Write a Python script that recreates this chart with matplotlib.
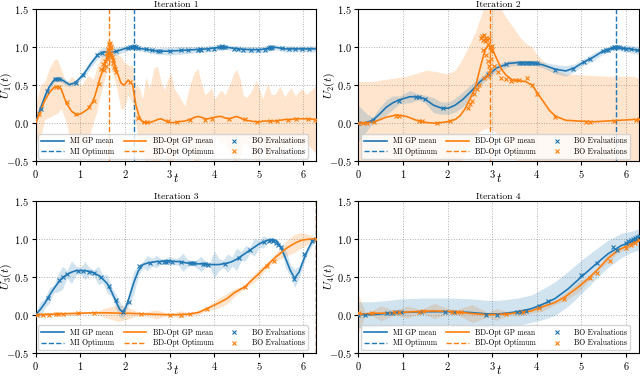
import numpy as np
import matplotlib
matplotlib.use("Agg")
from matplotlib import pyplot as plt
from matplotlib.lines import Line2D

plt.rcParams['font.family'] = 'serif'
plt.rcParams['font.serif'] = ['cmr10']
plt.rcParams['mathtext.fontset'] = 'cm'
plt.rcParams['axes.formatter.use_mathtext'] = True

BLUE = '#1f77b4'
ORANGE = '#ff7f0e'

# ---------------- Iteration 1 ----------------
p1_mi_t = [0, 0.1, 0.2, 0.3, 0.42, 0.52, 0.62, 0.75, 0.87, 0.98, 1.1, 1.25, 1.4, 1.52, 1.67, 1.82,
           1.97, 2.13, 2.27, 2.52, 2.73, 2.96, 3.26, 3.55, 3.85, 4.1, 4.29, 4.54, 4.79, 5.03, 5.23,
           5.38, 5.58, 5.82, 6.28]
p1_mi_mean = [0.02, 0.19, 0.35, 0.48, 0.58, 0.59, 0.56, 0.51, 0.53, 0.59, 0.67, 0.80, 0.91, 0.94,
              0.93, 0.95, 0.98, 1.0, 0.99, 0.97, 0.95, 0.95, 0.96, 0.97, 0.98, 1.0, 1.0, 0.98, 0.97,
              0.97, 0.99, 1.0, 0.98, 0.98, 0.98]
p1_mi_hw = [0.04, 0.04, 0.04, 0.04, 0.03, 0.03, 0.04, 0.03, 0.03, 0.03, 0.04, 0.05, 0.05, 0.06,
            0.05, 0.05, 0.04, 0.03, 0.03, 0.04, 0.04, 0.05, 0.05, 0.04, 0.04, 0.04, 0.03, 0.04,
            0.04, 0.04, 0.04, 0.03, 0.04, 0.04, 0.04]
p1_bd_t = [0, 0.1, 0.2, 0.3, 0.4, 0.48, 0.57, 0.68, 0.8, 0.91,
           1.02, 1.17, 1.29, 1.36, 1.44, 1.52, 1.59, 1.65, 1.73, 1.81,
           1.91, 1.98, 2.07, 2.17, 2.24, 2.32, 2.39, 2.47, 2.55, 2.65,
           2.73, 2.8, 2.88, 2.95, 3.03, 3.1, 3.19, 3.34, 3.45, 3.56,
           3.63, 3.71, 3.79, 3.86, 3.94, 4.01, 4.09, 4.16, 4.24, 4.34,
           4.44, 4.5, 4.59, 4.65, 4.72, 4.82, 4.94, 5.03, 5.09, 5.2,
           5.28, 5.36, 5.47, 5.58, 5.72, 5.82, 5.95, 6.07, 6.28]
p1_bd_mean = [0.01, 0.15, 0.30, 0.40, 0.47, 0.49, 0.45, 0.27, 0.16, 0.11,
              0.13, 0.19, 0.30, 0.43, 0.60, 0.73, 0.86, 0.94, 0.86, 0.69,
              0.53, 0.50, 0.57, 0.51, 0.25, 0.08, 0.02, 0.01, 0.01, 0.03,
              0.05, 0.06, 0.04, 0.02, 0.01, 0.01, 0.02, 0.03, 0.05, 0.08,
              0.09, 0.08, 0.06, 0.06, 0.07, 0.08, 0.09, 0.09, 0.07, 0.06,
              0.08, 0.09, 0.07, 0.05, 0.04, 0.03, 0.02, 0.02, 0.03, 0.03,
              0.03, 0.03, 0.04, 0.05, 0.05, 0.06, 0.06, 0.06, 0.05]
p1_bd_hw = [0.24, 0.35, 0.25, 0.32, 0.36, 0.36, 0.26, 0.25, 0.46, 0.45,
            0.37, 0.44, 0.28, 0.29, 0.25, 0.20, 0.18, 0.15, 0.20, 0.22,
            0.35, 0.30, 0.20, 0.25, 0.25, 0.40, 0.30, 0.60, 0.45, 0.70,
            0.70, 0.50, 0.40, 0.55, 0.65, 0.45, 0.36, 0.20, 0.45, 0.60,
            0.63, 0.45, 0.32, 0.35, 0.40, 0.24, 0.30, 0.35, 0.30, 0.45,
            0.58, 0.62, 0.50, 0.32, 0.30, 0.38, 0.55, 0.40, 0.30, 0.50,
            0.35, 0.35, 0.45, 0.30, 0.42, 0.30, 0.40, 0.32, 0.45]
p1_mi_eval_t = [0.12, 0.25, 0.42, 0.47, 0.52, 0.9, 1.05, 1.38, 1.48, 1.8,
                2.07, 2.12, 2.15, 2.18, 2.2, 2.22, 2.25, 2.3, 2.48, 2.6,
                2.74, 2.78, 3.0, 3.26, 3.4, 3.64, 3.67, 3.7, 3.85, 4.0,
                4.1, 4.15, 4.18, 4.2, 4.24, 4.44, 4.54, 4.64, 4.83, 4.98,
                5.13, 5.23, 5.25, 5.28, 5.3, 5.52, 5.68, 5.82, 5.97, 6.12]
p1_mi_eval_y = [0.19, 0.43, 0.58, 0.59, 0.59, 0.53, 0.63, 0.90, 0.93, 0.95,
                0.99, 1.0, 1.01, 1.0, 1.02, 1.0, 1.01, 0.99, 0.98, 0.97,
                0.95, 0.95, 0.95, 0.96, 0.97, 0.97, 0.98, 0.97, 0.98, 0.98,
                1.0, 1.01, 1.02, 1.0, 1.01, 0.98, 0.98, 0.97, 0.97, 0.97,
                0.97, 0.99, 1.0, 0.99, 1.0, 0.99, 0.98, 0.98, 0.98, 0.98]
p1_bd_eval_t = [0.07, 0.45, 0.52, 0.7, 0.9, 1.2, 1.3, 1.42, 1.47, 1.5,
                1.53, 1.55, 1.57, 1.59, 1.6, 1.61, 1.62, 1.63, 1.64, 1.65,
                1.66, 1.67, 1.68, 1.69, 1.7, 1.72, 1.74, 1.76, 1.78, 1.8,
                2.1, 2.3, 2.43, 2.5, 2.96, 3.16, 3.45, 3.79, 3.95, 4.33,
                4.69, 4.96, 5.24, 5.41, 5.66, 5.84, 6.11, 6.26]
p1_bd_eval_y = [0.12, 0.48, 0.48, 0.28, 0.12, 0.22, 0.29, 0.52, 0.72, 0.78,
                0.70, 0.82, 0.76, 0.88, 0.92, 0.85, 0.98, 0.90, 1.04, 0.95,
                1.06, 0.99, 0.93, 1.0, 0.87, 0.84, 0.80, 0.74, 0.72, 0.68,
                0.55, 0.07, 0.02, 0.02, 0.03, 0.02, 0.04, 0.05, 0.06, 0.06,
                0.06, 0.02, 0.03, 0.03, 0.05, 0.06, 0.06, 0.05]
p1_mi_opt = 2.19
p1_bd_opt = 1.64

# ---------------- Iteration 2 ----------------
p2_mi_t = [0, 0.17, 0.32, 0.47, 0.62, 0.77, 0.92, 1.15, 1.34, 1.49,
           1.68, 1.86, 2.02, 2.17, 2.35, 2.54, 2.73, 2.92, 3.1, 3.38,
           3.6, 3.9, 4.13, 4.43, 4.65, 4.84, 5.03, 5.26, 5.48, 5.72,
           5.9, 6.08, 6.28]
p2_mi_mean = [0.0, 0.01, 0.04, 0.12, 0.21, 0.27, 0.31, 0.35, 0.35, 0.32,
              0.24, 0.2, 0.2, 0.24, 0.32, 0.43, 0.55, 0.64, 0.73, 0.79,
              0.8, 0.8, 0.77, 0.71, 0.69, 0.73, 0.8, 0.87, 0.95, 1.0,
              0.99, 0.98, 0.96]
p2_mi_hw = [0.24, 0.12, 0.04, 0.08, 0.1, 0.09, 0.05, 0.08, 0.04, 0.05,
            0.1, 0.08, 0.08, 0.09, 0.1, 0.09, 0.06, 0.04, 0.05, 0.04,
            0.03, 0.03, 0.04, 0.06, 0.07, 0.05, 0.04, 0.05, 0.04, 0.03,
            0.04, 0.05, 0.05]
p2_bd_t = [0, 0.25, 0.4, 0.62, 0.85, 1.08, 1.3, 1.53, 1.75, 1.98,
           2.17, 2.28, 2.39, 2.5, 2.62, 2.69, 2.77, 2.84, 2.92, 3.0,
           3.1, 3.2, 3.3, 3.45, 3.6, 3.75, 3.9, 4.01, 4.13, 4.28,
           4.43, 4.65, 4.95, 5.26, 5.56, 5.86, 6.16, 6.28]
p2_bd_mean = [0.0, 0.01, 0.03, 0.08, 0.11, 0.09, 0.04, 0.01, 0.0, 0.02,
              0.05, 0.1, 0.19, 0.32, 0.47, 0.64, 0.82, 0.97, 1.03, 0.98,
              0.85, 0.72, 0.64, 0.57, 0.56, 0.55, 0.5, 0.4, 0.3, 0.17,
              0.09, 0.04, 0.03, 0.02, 0.03, 0.04, 0.05, 0.05]
p2_bd_hi = [0.55, 0.55, 0.56, 0.58, 0.6, 0.62, 0.66, 0.7, 0.68, 0.65,
            0.7, 0.8, 0.92, 1.05, 1.2, 1.32, 1.45, 1.6, 1.7, 1.7,
            1.6, 1.5, 1.4, 1.28, 1.15, 1.05, 1.0, 0.9, 0.82, 0.75,
            0.7, 0.65, 0.64, 0.63, 0.62, 0.62, 0.62, 0.6]
p2_bd_lo = [-0.55, -0.55, -0.55, -0.55, -0.55, -0.55, -0.55, -0.6, -0.6, -0.6,
            -0.65, -0.55, -0.4, -0.28, -0.18, -0.12, -0.09, -0.07, -0.07, -0.09,
            -0.13, -0.2, -0.3, -0.42, -0.55, -0.6, -0.6, -0.6, -0.6, -0.6,
            -0.6, -0.6, -0.6, -0.6, -0.6, -0.6, -0.6, -0.6]
p2_mi_eval_t = [0.0, 0.33, 0.9, 1.3, 1.35, 1.5, 1.9, 2.9, 3.3, 3.6,
                3.65, 3.7, 3.75, 3.8, 3.85, 3.9, 3.95, 4.0, 4.4, 4.8,
                5.05, 5.2, 5.48, 5.55, 5.6, 5.68, 5.72, 5.76, 5.8, 5.85,
                5.92, 6.0, 6.1, 6.25]
p2_mi_eval_y = [0.0, 0.04, 0.3, 0.35, 0.35, 0.32, 0.2, 0.65, 0.78, 0.8,
                0.8, 0.8, 0.8, 0.8, 0.8, 0.79, 0.79, 0.79, 0.7, 0.71,
                0.81, 0.85, 0.95, 0.96, 0.96, 0.99, 1.0, 1.01, 1.0, 1.0,
                0.99, 0.98, 0.98, 0.96]
p2_bd_eval_t = [0.0, 0.1, 0.2, 0.35, 0.85, 0.92, 1.35, 1.42, 1.75, 2.05,
                2.45, 2.5, 2.55, 2.6, 2.65, 2.7, 2.75, 2.78, 2.8, 2.82,
                2.84, 2.86, 2.88, 2.9, 2.92, 2.95, 2.97, 2.99, 2.8, 2.85,
                2.9, 2.93, 2.95, 2.97, 3.0, 2.82, 2.88, 2.92, 3.05, 3.12,
                3.2, 3.3, 3.42, 3.52, 3.6, 3.78, 3.9, 4.0, 4.4, 5.1,
                5.2, 5.73, 6.22, 6.28]
p2_bd_eval_y = [0.0, 0.0, 0.0, 0.02, 0.1, 0.1, 0.03, 0.03, 0.0, 0.03,
                0.2, 0.25, 0.3, 0.38, 0.45, 0.5, 1.12, 1.15, 1.1, 1.16,
                1.08, 1.13, 1.1, 1.05, 1.12, 1.0, 0.95, 0.97, 0.97, 0.9,
                0.82, 0.75, 0.7, 0.85, 1.02, 0.6, 0.62, 0.66, 0.75, 0.68,
                0.6, 0.58, 0.56, 0.57, 0.57, 0.6, 0.5, 0.38, 0.08, 0.02,
                0.02, 0.03, 0.05, 0.06]
p2_mi_opt = 5.77
p2_bd_opt = 2.95

# ---------------- Iteration 3 ----------------
p3_mi_t = [0, 0.1, 0.2, 0.3, 0.4, 0.5, 0.6, 0.7, 0.8, 0.9,
           1.0, 1.1, 1.2, 1.3, 1.4, 1.5, 1.6, 1.7, 1.8, 1.88,
           1.95, 2.02, 2.1, 2.2, 2.3, 2.4, 2.5, 2.6, 2.7, 2.8,
           2.9, 3.0, 3.1, 3.2, 3.3, 3.4, 3.5, 3.6, 3.7, 3.8,
           3.9, 4.0, 4.1, 4.2, 4.3, 4.4, 4.5, 4.6, 4.7, 4.8,
           4.9, 5.0, 5.1, 5.2, 5.3, 5.4, 5.5, 5.6, 5.7, 5.8,
           5.9, 6.0, 6.1, 6.2, 6.28]
p3_mi_mean = [0.0, 0.07, 0.15, 0.25, 0.34, 0.42, 0.49, 0.53, 0.56, 0.58,
              0.58, 0.58, 0.57, 0.55, 0.52, 0.47, 0.41, 0.3, 0.17, 0.07,
              0.035, 0.1, 0.24, 0.43, 0.58, 0.66, 0.68, 0.69, 0.70, 0.70,
              0.71, 0.71, 0.70, 0.70, 0.69, 0.68, 0.68, 0.67, 0.67, 0.67,
              0.66, 0.66, 0.66, 0.67, 0.68, 0.70, 0.73, 0.77, 0.81, 0.85,
              0.89, 0.93, 0.96, 0.98, 0.99, 0.97, 0.88, 0.74, 0.59, 0.48,
              0.56, 0.72, 0.86, 0.97, 1.0]
p3_mi_hw = [0.03, 0.1, 0.06, 0.1, 0.05, 0.12, 0.15, 0.05, 0.15, 0.06,
            0.04, 0.12, 0.05, 0.04, 0.12, 0.05, 0.12, 0.06, 0.1, 0.1,
            0.08, 0.05, 0.1, 0.15, 0.06, 0.04, 0.1, 0.05, 0.08, 0.04,
            0.03, 0.06, 0.04, 0.05, 0.12, 0.05, 0.03, 0.05, 0.1, 0.04,
            0.03, 0.18, 0.08, 0.05, 0.12, 0.06, 0.15, 0.06, 0.1, 0.04,
            0.12, 0.05, 0.08, 0.03, 0.03, 0.03, 0.04, 0.12, 0.08, 0.12,
            0.08, 0.06, 0.04, 0.05, 0.02]
p3_bd_t = [0, 0.5, 0.8, 1.0, 1.3, 1.6, 1.85, 2.1, 2.35, 2.7,
           3.0, 3.25, 3.45, 3.65, 3.83, 4.05, 4.28, 4.45, 4.69, 4.85,
           5.0, 5.18, 5.4, 5.63, 5.8, 5.95, 6.12, 6.28]
p3_bd_mean = [0.0, 0.01, 0.015, 0.02, 0.025, 0.025, 0.02, 0.018, 0.012, 0.005,
              0.0, 0.002, 0.01, 0.03, 0.08, 0.14, 0.21, 0.29, 0.37, 0.46,
              0.54, 0.65, 0.77, 0.88, 0.94, 0.98, 0.995, 1.0]
p3_bd_hw = [0.02, 0.01, 0.03, 0.01, 0.01, 0.07, 0.11, 0.07, 0.01, 0.06,
            0.01, 0.05, 0.01, 0.03, 0.02, 0.06, 0.07, 0.05, 0.02, 0.05,
            0.06, 0.03, 0.06, 0.1, 0.12, 0.1, 0.06, 0.02]
p3_mi_eval_t = [0.27, 0.53, 0.6, 0.7, 0.95, 1.05, 1.2, 1.3, 1.45, 1.65,
                1.8, 1.95, 2.08, 2.32, 2.55, 2.75, 2.88, 2.92, 2.96, 3.05,
                3.25, 3.45, 3.5, 3.55, 3.75, 3.8, 3.85, 4.25, 4.55, 4.8,
                5.12, 5.22, 5.28, 5.32, 5.38, 5.42, 5.5, 5.78, 6.02, 6.2,
                6.28]
p3_mi_eval_y = [0.22, 0.46, 0.5, 0.53, 0.57, 0.57, 0.56, 0.55, 0.5, 0.38,
                0.19, 0.035, 0.17, 0.64, 0.68, 0.7, 0.7, 0.7, 0.71, 0.7,
                0.69, 0.68, 0.68, 0.68, 0.67, 0.67, 0.66, 0.67, 0.75, 0.85,
                0.96, 0.97, 0.98, 0.97, 0.94, 0.92, 0.89, 0.47, 0.8, 0.97,
                1.0]
p3_bd_eval_t = [0.02, 0.15, 0.3, 0.45, 0.5, 0.6, 0.95, 1.3, 2.35, 3.0,
                3.25, 3.45, 3.83, 4.69, 5.18, 5.33, 6.28]
p3_bd_eval_y = [0.0, 0.0, 0.0, 0.005, 0.01, 0.01, 0.02, 0.025, 0.01, 0.0,
                0.0, 0.01, 0.08, 0.37, 0.64, 0.71, 1.0]
p3_mi_opt = 6.27
p3_bd_opt = 6.27

# ---------------- Iteration 4 ----------------
p4_mi_t = [0, 0.3, 0.6, 1.0, 1.5, 2.0, 2.5, 2.9, 3.13, 3.3,
           3.58, 3.88, 4.1, 4.4, 4.7, 5.0, 5.29, 5.59, 5.89, 6.12, 6.28]
p4_mi_mean = [0.0, 0.0, 0.015, 0.03, 0.04, 0.04, 0.03, 0.01, 0.01, 0.02,
              0.04, 0.08, 0.13, 0.21, 0.34, 0.5, 0.65, 0.8, 0.91, 0.96, 0.99]
p4_mi_hw = [0.17, 0.17, 0.17, 0.18, 0.18, 0.18, 0.18, 0.18, 0.18, 0.18,
            0.18, 0.18, 0.2, 0.22, 0.23, 0.22, 0.2, 0.18, 0.16, 0.14, 0.14]
p4_bd_t = [0, 0.15, 0.3, 0.5, 0.8, 1.1, 1.4, 1.7, 2.0, 2.2,
           2.55, 2.9, 3.1, 3.35, 3.6, 3.88, 4.1, 4.4, 4.62, 4.92,
           5.14, 5.37, 5.59, 5.82, 6.04, 6.28]
p4_bd_mean = [0.01, 0.01, 0.02, 0.02, 0.025, 0.035, 0.045, 0.05, 0.045, 0.035,
              0.015, 0.0, 0.005, 0.01, 0.03, 0.05, 0.1, 0.16, 0.23, 0.36,
              0.47, 0.6, 0.74, 0.85, 0.91, 0.98]
p4_bd_hw = [0.25, 0.03, 0.03, 0.1, 0.03, 0.08, 0.02, 0.1, 0.04, 0.03,
            0.12, 0.03, 0.08, 0.02, 0.05, 0.03, 0.06, 0.03, 0.05, 0.07,
            0.03, 0.02, 0.05, 0.03, 0.04, 0.02]
p4_mi_eval_t = [0.0, 0.15, 0.65, 0.75, 0.85, 0.95, 1.4, 1.95, 2.15, 2.85,
                3.1, 3.55, 3.65, 3.75, 4.05, 4.25, 5.0, 5.35, 5.7, 5.8,
                6.0, 6.05, 6.1, 6.15, 6.2, 6.25, 6.28]
p4_mi_eval_y = [0.0, -0.01, 0.02, 0.02, 0.03, 0.03, 0.04, 0.04, 0.03, 0.0,
                0.0, 0.04, 0.04, 0.05, 0.12, 0.18, 0.52, 0.68, 0.89, 0.85,
                0.95, 0.97, 0.98, 1.0, 1.01, 1.02, 1.03]
p4_bd_eval_t = [0.02, 0.3, 0.8, 0.9, 1.35, 1.45, 2.1, 2.2, 2.3, 3.3,
                3.7, 4.05, 4.6, 5.2, 5.35, 5.65, 6.0, 6.1, 6.2, 6.28]
p4_bd_eval_y = [0.02, 0.02, 0.03, 0.03, 0.04, 0.045, 0.04, 0.035, 0.03, 0.01,
                0.04, 0.09, 0.21, 0.48, 0.55, 0.71, 0.88, 0.92, 0.95, 0.98]
p4_mi_opt = None
p4_bd_opt = None


def band(mean, hw):
    m = np.array(mean)
    h = np.array(hw)
    return m - h, m + h


panels = [
    (p1_mi_t, p1_mi_mean, band(p1_mi_mean, p1_mi_hw), p1_bd_t, p1_bd_mean, band(p1_bd_mean, p1_bd_hw),
     p1_mi_eval_t, p1_mi_eval_y, p1_bd_eval_t, p1_bd_eval_y, p1_mi_opt, p1_bd_opt),
    (p2_mi_t, p2_mi_mean, band(p2_mi_mean, p2_mi_hw), p2_bd_t, p2_bd_mean, (p2_bd_lo, p2_bd_hi),
     p2_mi_eval_t, p2_mi_eval_y, p2_bd_eval_t, p2_bd_eval_y, p2_mi_opt, p2_bd_opt),
    (p3_mi_t, p3_mi_mean, band(p3_mi_mean, p3_mi_hw), p3_bd_t, p3_bd_mean, band(p3_bd_mean, p3_bd_hw),
     p3_mi_eval_t, p3_mi_eval_y, p3_bd_eval_t, p3_bd_eval_y, p3_mi_opt, p3_bd_opt),
    (p4_mi_t, p4_mi_mean, band(p4_mi_mean, p4_mi_hw), p4_bd_t, p4_bd_mean, band(p4_bd_mean, p4_bd_hw),
     p4_mi_eval_t, p4_mi_eval_y, p4_bd_eval_t, p4_bd_eval_y, p4_mi_opt, p4_bd_opt),
]

fig, axes = plt.subplots(2, 2, figsize=(6.4, 3.76), dpi=100)
fig.subplots_adjust(left=0.056, right=0.998, bottom=0.062, top=0.975, wspace=0.151, hspace=0.26)

for k, (ax, p) in enumerate(zip(axes.flat, panels)):
    mt, mm, (mlo, mhi), bt, bm, (blo, bhi), met, mey, bet, bey, mopt, bopt = p
    ax.fill_between(bt, blo, bhi, color=ORANGE, alpha=0.2, lw=0, zorder=1)
    ax.fill_between(mt, mlo, mhi, color=BLUE, alpha=0.2, lw=0, zorder=1)
    ax.plot(mt, mm, color=BLUE, lw=1.2, zorder=3)
    ax.plot(bt, bm, color=ORANGE, lw=1.2, zorder=3)
    ax.plot(met, mey, 'x', color=BLUE, ms=3.5, mew=0.8, zorder=4)
    ax.plot(bet, bey, 'x', color=ORANGE, ms=3.5, mew=0.8, zorder=4)
    if mopt is not None:
        ax.axvline(mopt, color=BLUE, ls='--', lw=1.0, zorder=2)
    if bopt is not None:
        ax.axvline(bopt, color=ORANGE, ls='--', lw=1.0, zorder=2)

    ax.set_xlim(0, 2 * np.pi)
    ax.set_ylim(-0.5, 1.5)
    ax.set_xticks(range(7))
    ax.set_yticks([-0.5, 0.0, 0.5, 1.0, 1.5])
    ax.tick_params(labelsize=7.5, length=3, pad=2)
    ax.grid(True, ls=':', color='#b0b0b0', lw=0.7)
    ax.set_axisbelow(True)
    ax.set_title('Iteration %d' % (k + 1), fontsize=7, pad=1.5)
    ax.set_ylabel('$U_%d(t)$' % (k + 1), fontsize=8.5)
    ax.yaxis.set_label_coords(-0.078, 0.5)
    ax.set_xlabel('$t$', fontsize=9)
    ax.xaxis.set_label_coords(0.5, -0.072)

    handles = [
        Line2D([], [], color=BLUE, lw=1.2),
        Line2D([], [], color=BLUE, lw=1.0, ls='--'),
        Line2D([], [], color=ORANGE, lw=1.2),
        Line2D([], [], color=ORANGE, lw=1.0, ls='--'),
        Line2D([], [], color=BLUE, ls='none', marker='x', ms=3.5, mew=0.8),
        Line2D([], [], color=ORANGE, ls='none', marker='x', ms=3.5, mew=0.8),
    ]
    labels = ['MI GP mean', 'MI Optimum', 'BD-Opt GP mean', 'BD-Opt Optimum',
              'BO Evaluations', 'BO Evaluations']
    ax.legend(handles, labels, loc='lower left', ncol=3, fontsize=5.5, frameon=True,
              borderaxespad=0.3, handlelength=3.0, columnspacing=1.2, handletextpad=0.8,
              borderpad=0.4, labelspacing=0.3, framealpha=0.8)

fig.savefig('out.png', dpi=100)
